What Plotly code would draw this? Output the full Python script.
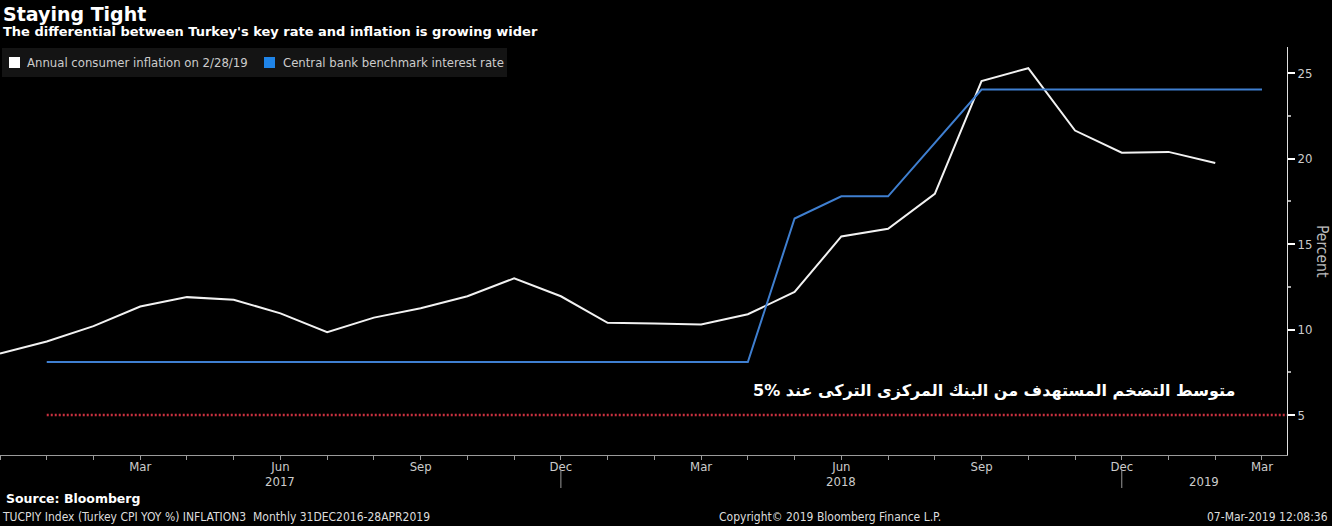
import plotly.graph_objects as go

# ---- data ----
months = ["2016-12", "2017-01", "2017-02", "2017-03", "2017-04", "2017-05", "2017-06",
          "2017-07", "2017-08", "2017-09", "2017-10", "2017-11", "2017-12",
          "2018-01", "2018-02", "2018-03", "2018-04", "2018-05", "2018-06",
          "2018-07", "2018-08", "2018-09", "2018-10", "2018-11", "2018-12",
          "2019-01", "2019-02", "2019-03"]
month_labels = ["", "", "", "Mar", "", "", "Jun", "", "", "Sep", "", "", "Dec",
                "", "", "Mar", "", "", "Jun", "", "", "Sep", "", "", "Dec",
                "", "", "Mar"]
inflation = [8.6, 9.3, 10.2, 11.35, 11.9, 11.75, 10.95, 9.85, 10.7, 11.25, 11.95,
             13.0, 11.95, 10.4, 10.35, 10.3, 10.9, 12.2, 15.45, 15.9, 17.95,
             24.55, 25.3, 21.65, 20.35, 20.4, 19.75, None]
policy_rate = [None, 8.1, 8.1, 8.1, 8.1, 8.1, 8.1, 8.1, 8.1, 8.1, 8.1, 8.1, 8.1,
               8.1, 8.1, 8.1, 8.1, 16.5, 17.8, 17.8, None, 24.05, 24.05, 24.05, 24.05,
               24.05, 24.05, 24.05]
target_rate = 5
target_start = "2017-01"
series_names = ["Annual consumer inflation on 2/28/19", "Central bank benchmark interest rate"]
year_labels = ["2017", "2018", "2019"]
year_breaks = ["2017-12", "2018-12"]
y_ticks = [5, 10, 15, 20, 25]
y_minor = [7.5, 12.5, 17.5, 22.5]

x = list(range(len(months)))
x_end = 27.535
y_range = [2.66, 26.54]

PW, PH, PB = 1287.0, 408.0, 455.0  # plot width / height / bottom pixel


def px(xp):
    return xp / PW


def py(yp):
    return (PB - yp) / PH


NARROW = "DejaVu Sans Condensed, Liberation Sans Narrow, Arial Narrow, sans-serif"
BOLD = "DejaVu Sans, Verdana, sans-serif"

fig = go.Figure()
fig.add_trace(go.Scatter(x=x, y=inflation, mode="lines", line=dict(color="#f2f2f2", width=2),
                         name=series_names[0], showlegend=False, connectgaps=False))
fig.add_trace(go.Scatter(x=x, y=policy_rate, mode="lines", line=dict(color="#3f7fd0", width=2),
                         name=series_names[1], showlegend=False, connectgaps=True))

# target line
fig.add_shape(type="line", xref="x", yref="y", x0=months.index(target_start), x1=x_end,
              y0=target_rate, y1=target_rate,
              line=dict(color="#c9303f", width=2.5, dash="2px,2px"))

# legend (manual, Bloomberg style)
fig.add_shape(type="rect", xref="paper", yref="paper", x0=px(2), x1=px(507), y0=py(77), y1=py(48),
              fillcolor="#141414", line=dict(width=0), layer="above")
swatches = [("#ffffff", 9, 25), ("#1f84e8", 264, 281)]
for (col, sx, tx), nm in zip(swatches, series_names):
    fig.add_shape(type="rect", xref="paper", yref="paper", x0=px(sx), x1=px(sx + 11),
                  y0=py(68), y1=py(57), fillcolor=col, line=dict(width=0), layer="above")
    fig.add_annotation(x=px(tx), y=py(63), xref="paper", yref="paper", text=nm,
                       showarrow=False, xanchor="left", yanchor="middle",
                       font=dict(family=NARROW, size=13, color="#cccccc"))

# year dividers
for yb in year_breaks:
    fig.add_shape(type="line", xref="x", yref="paper", x0=months.index(yb), x1=months.index(yb),
                  y0=py(470), y1=py(488), line=dict(color="#999999", width=1))

bounds = [0] + [months.index(b) for b in year_breaks] + [x_end]
for i, yl in enumerate(year_labels):
    fig.add_annotation(x=(bounds[i] + bounds[i + 1]) / 2, y=py(481), xref="x", yref="paper",
                       text=yl, showarrow=False, yanchor="middle",
                       font=dict(family=NARROW, size=13, color="#cccccc"))

# titles
fig.add_annotation(x=px(1), y=py(14), xref="paper", yref="paper", text="<b>Staying Tight</b>",
                   showarrow=False, xanchor="left", yanchor="middle",
                   font=dict(family=BOLD, size=19, color="#ffffff"))
fig.add_annotation(x=px(1), y=py(32), xref="paper", yref="paper",
                   text="<b>The differential between Turkey's key rate and inflation is growing wider</b>",
                   showarrow=False, xanchor="left", yanchor="middle",
                   font=dict(family=BOLD, size=13, color="#ffffff"))

# arabic annotation (keep "5%" as a left-to-right run inside right-to-left text)
arabic = "\u202Bمتوسط التضخم المستهدف من البنك المركزى التركى عند \u202A5%\u202C\u202C"
fig.add_annotation(x=px(1237), y=py(390), xref="paper", yref="paper",
                   text="<b>" + arabic + "</b>",
                   showarrow=False, xanchor="right", yanchor="middle",
                   font=dict(family="DejaVu Sans, Noto Sans, sans-serif", size=16, color="#ffffff"))

# axis title
fig.add_annotation(x=px(1322), y=py(251), xref="paper", yref="paper", text="Percent",
                   showarrow=False, textangle=90, xanchor="center", yanchor="middle",
                   font=dict(family=NARROW, size=15.5, color="#bbbbbb"))

# footer
fig.add_annotation(x=px(4), y=py(498), xref="paper", yref="paper", text="<b>Source: Bloomberg</b>",
                   showarrow=False, xanchor="left", yanchor="middle",
                   font=dict(family=BOLD, size=12.5, color="#ffffff"))
fig.add_annotation(x=px(0), y=py(517), xref="paper", yref="paper",
                   text="TUCPIY Index (Turkey CPI YOY %) INFLATION3&nbsp;&nbsp;Monthly 31DEC2016-28APR2019",
                   showarrow=False, xanchor="left", yanchor="middle",
                   font=dict(family=NARROW, size=12, color="#dddddd"))
fig.add_annotation(x=px(830), y=py(517), xref="paper", yref="paper",
                   text="Copyright© 2019 Bloomberg Finance L.P.",
                   showarrow=False, xanchor="center", yanchor="middle",
                   font=dict(family=NARROW, size=12, color="#dddddd"))
fig.add_annotation(x=px(1330), y=py(517), xref="paper", yref="paper",
                   text="07-Mar-2019 12:08:36",
                   showarrow=False, xanchor="right", yanchor="middle",
                   font=dict(family=NARROW, size=12, color="#dddddd"))

fig.update_layout(
    width=1332, height=526,
    margin=dict(l=0, r=45, t=47, b=71),
    paper_bgcolor="#000000", plot_bgcolor="#000000",
    showlegend=False,
    xaxis=dict(range=[0, x_end], tickmode="array", tickvals=x, ticktext=month_labels,
               showgrid=False, zeroline=False, showline=True, linecolor="#9a9a9a", linewidth=1,
               ticks="outside", ticklen=4, tickcolor="#9a9a9a", ticklabelstandoff=-5,
               tickfont=dict(family=NARROW, size=13, color="#cccccc")),
    yaxis=dict(range=y_range, side="right", tickmode="array", tickvals=y_ticks,
               showgrid=False, zeroline=False, showline=True, linecolor="#e0e0e0", linewidth=1,
               ticks="outside", ticklen=7, tickwidth=2, tickcolor="#ffffff",
               tickfont=dict(family=NARROW, size=13, color="#cccccc"),
               minor=dict(tickmode="array", tickvals=y_minor, ticks="outside", ticklen=3,
                          tickcolor="#aaaaaa")),
)

fig.write_html("out.html", config={"displayModeBar": False},
               post_script="document.body.style.margin='0px';")
